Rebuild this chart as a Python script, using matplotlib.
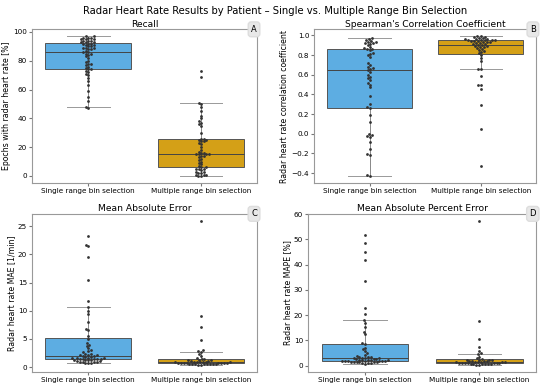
import matplotlib
matplotlib.use("Agg")
import matplotlib.pyplot as plt
import seaborn as sns
import pandas as pd

groups = ["Single range bin selection", "Multiple range bin selection"]
colors = ["#5DADE2", "#D4A017"]

# per-patient values
recall_single = [47, 48, 52, 55, 59, 63, 66, 68, 70, 71, 72, 73, 74, 74, 75, 76, 77, 78, 78,
                 79, 80, 82, 83, 84, 85, 86, 86, 87, 88, 88, 89, 89, 90, 90, 91, 91, 92, 92,
                 93, 93, 93, 94, 94, 94, 95, 95, 95, 96, 96, 96, 97, 97, 92, 85, 89]
recall_multi = [0, 0, 1, 1, 2, 2, 3, 3, 4, 5, 5, 6, 6, 7, 8, 9, 10, 11, 12, 13, 14, 14, 15, 15,
                15, 16, 16, 17, 18, 20, 22, 23, 24, 24, 25, 25, 26, 26, 30, 35, 36, 37, 38,
                40, 42, 45, 48, 50, 51, 69, 73, 15, 5, 1]

rho_single = [-0.43, -0.42, -0.22, -0.21, -0.16, -0.08, -0.03, -0.02, -0.01, 0.0, 0.12, 0.19,
              0.26, 0.27, 0.30, 0.38, 0.47, 0.50, 0.52, 0.55, 0.57, 0.58, 0.60, 0.63, 0.65,
              0.66, 0.67, 0.68, 0.70, 0.72, 0.78, 0.80, 0.81, 0.82, 0.85, 0.86, 0.86, 0.87,
              0.88, 0.90, 0.91, 0.92, 0.92, 0.93, 0.93, 0.94, 0.95, 0.96, 0.97]
rho_multi = [-0.33, 0.05, 0.29, 0.45, 0.50, 0.50, 0.59, 0.66, 0.66, 0.74, 0.77, 0.80, 0.82,
             0.83, 0.84, 0.85, 0.86, 0.87, 0.88, 0.88, 0.89, 0.89, 0.90, 0.90, 0.91, 0.91,
             0.92, 0.92, 0.93, 0.93, 0.94, 0.94, 0.95, 0.95, 0.95, 0.95, 0.96, 0.96, 0.96,
             0.97, 0.97, 0.98, 0.98, 0.99, 0.99, 0.93, 0.94, 0.95]

mae_single = [0.7, 0.8, 0.9, 1.0, 1.0, 1.1, 1.2, 1.3, 1.3, 1.4, 1.5, 1.5, 1.6, 1.7, 1.8,
              1.9, 2.0, 2.1, 2.1, 2.2, 2.4, 2.6, 2.8, 3.0, 3.4, 3.8, 4.0, 4.3, 5.0, 5.5,
              6.5, 6.8, 8.0, 9.5, 10.0, 10.7, 11.7, 15.5, 19.5, 21.5, 21.7, 23.3, 1.2, 1.5,
              0.9, 1.8, 0.8, 1.1, 1.4, 1.6, 1.7, 2.3]
mae_multi = [0.4, 0.45, 0.5, 0.5, 0.55, 0.6, 0.6, 0.65, 0.7, 0.7, 0.75, 0.8, 0.8, 0.85,
             0.9, 0.9, 0.95, 1.0, 1.0, 1.1, 1.2, 1.2, 1.3, 1.4, 1.5, 1.7, 2.0, 2.3, 2.6,
             2.8, 3.0, 4.8, 7.2, 9.1, 25.9, 0.6, 0.7, 0.8, 0.9, 1.1, 0.5, 0.6]

mape_single = [0.8, 1.0, 1.2, 1.4, 1.5, 1.6, 1.8, 1.8, 1.9, 2.0, 2.1, 2.2, 2.3, 2.5, 2.7,
               2.9, 3.0, 3.2, 3.5, 3.6, 3.9, 4.2, 5.0, 5.8, 6.5, 7.0, 8.5, 9.0, 12.5,
               13.5, 15.5, 17.0, 18.0, 20.5, 23.0, 33.5, 42.0, 45.0, 48.5, 51.8, 1.5, 1.7,
               2.0, 2.4, 3.1, 1.3, 1.1, 1.6, 1.9, 2.2, 2.6, 3.3]
mape_multi = [0.3, 0.4, 0.5, 0.6, 0.7, 0.8, 0.8, 0.9, 1.0, 1.0, 1.1, 1.2, 1.3, 1.4, 1.5,
              1.5, 1.6, 1.7, 1.8, 1.9, 2.0, 2.1, 2.2, 2.3, 2.4, 2.6, 3.0, 3.5, 4.5, 5.0,
              6.0, 7.5, 10.5, 17.8, 57.3, 0.7, 0.9, 1.2, 1.4]

panels = [
    ("Recall", "Epochs with radar heart rate [%]", recall_single, recall_multi, "A", [0, 20, 40, 60, 80, 100]),
    ("Spearman's Correlation Coefficient", "Radar heart rate correlation coefficient", rho_single, rho_multi, "B",
     [-0.4, -0.2, 0.0, 0.2, 0.4, 0.6, 0.8, 1.0]),
    ("Mean Absolute Error", "Radar heart rate MAE [1/min]", mae_single, mae_multi, "C", [0, 5, 10, 15, 20, 25]),
    ("Mean Absolute Percent Error", "Radar heart rate MAPE [%]", mape_single, mape_multi, "D", [0, 10, 20, 30, 40, 50, 60]),
]

plt.rcParams["font.size"] = 5.2
fig = plt.figure(figsize=(5.5, 3.86), dpi=100)
fig.suptitle("Radar Heart Rate Results by Patient \u2013 Single vs. Multiple Range Bin Selection",
             fontsize=7.2, y=0.985)

positions = [[0.058, 0.526, 0.41, 0.398], [0.571, 0.526, 0.404, 0.398],
             [0.058, 0.036, 0.41, 0.41], [0.56, 0.036, 0.415, 0.41]]

for (title, ylabel, single, multi, letter, ticks), pos in zip(panels, positions):
    ax = fig.add_axes(pos)
    df = pd.DataFrame({"group": [groups[0]] * len(single) + [groups[1]] * len(multi),
                       "value": single + multi})
    sns.boxplot(data=df, x="group", y="value", hue="group", palette=colors, saturation=1,
                showfliers=False, width=0.76, linewidth=0.7, ax=ax, legend=False,
                boxprops=dict(edgecolor="#555555"), medianprops=dict(color="#444444"),
                whiskerprops=dict(color="#888888"), capprops=dict(color="#999999"))
    sns.swarmplot(data=df, x="group", y="value", color="#333333", size=2.0, ax=ax)
    ax.set_title(title, fontsize=6.6, pad=2)
    ax.set_xlabel("")
    ax.set_ylabel(ylabel, fontsize=5.6, labelpad=1.5)
    ax.set_yticks(ticks)
    ax.tick_params(labelsize=5.2, length=2, pad=1.5, color="#777777")
    ax.tick_params(axis="x", labelsize=5.2)
    for s in ax.spines.values():
        s.set_color("#999999")
        s.set_linewidth(0.8)
    ax.text(0.985, 1.0, letter, transform=ax.transAxes, ha="center", va="center", fontsize=6,
            bbox=dict(boxstyle="round,pad=0.35", facecolor="#e8e8e8", edgecolor="#dddddd"))

fig.savefig("out.png", dpi=100)
